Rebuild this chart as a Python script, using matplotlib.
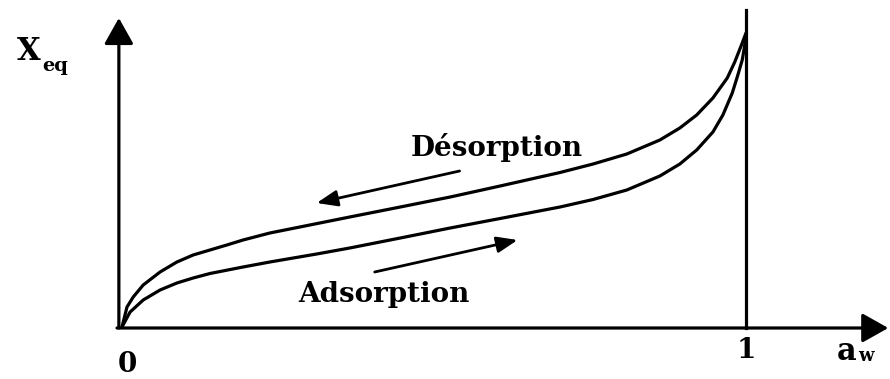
import matplotlib.pyplot as plt

# water activity (a_w) and equilibrium moisture content (arbitrary units)
aw_des = [0.0, 0.008, 0.018, 0.034, 0.061, 0.088, 0.114, 0.141, 0.168, 0.194,
          0.237, 0.285, 0.365, 0.446, 0.526, 0.606, 0.702, 0.755, 0.809, 0.862,
          0.894, 0.921, 0.947, 0.970, 0.982, 0.994, 1.0]
x_des = [0.0, 0.20, 0.30, 0.42, 0.55, 0.65, 0.72, 0.77, 0.82, 0.87,
         0.94, 1.00, 1.10, 1.20, 1.30, 1.41, 1.545, 1.63, 1.73, 1.87,
         1.99, 2.12, 2.29, 2.49, 2.65, 2.84, 2.94]

aw_ads = [0.0, 0.013, 0.034, 0.061, 0.088, 0.114, 0.141, 0.194, 0.237, 0.312,
          0.365, 0.446, 0.526, 0.606, 0.702, 0.755, 0.809, 0.862, 0.894, 0.921,
          0.947, 0.963, 0.978, 0.986, 0.994, 0.997, 1.0]
x_ads = [0.0, 0.15, 0.27, 0.37, 0.44, 0.49, 0.535, 0.60, 0.65, 0.73,
         0.79, 0.89, 0.99, 1.085, 1.20, 1.275, 1.37, 1.51, 1.63, 1.77,
         1.95, 2.12, 2.34, 2.50, 2.67, 2.78, 2.90]

SERIF = "DejaVu Serif"

fig = plt.figure(figsize=(8.9, 3.79), dpi=100)
ax = fig.add_axes([0, 0, 1, 1])
ax.set_xlim(-0.1955, 1.2308)
ax.set_ylim(-0.52, 3.27)
ax.axis("off")

lw = 2.3
ax.plot(aw_des, x_des, color="black", lw=lw, solid_capstyle="round", solid_joinstyle="round")
ax.plot(aw_ads, x_ads, color="black", lw=lw, solid_capstyle="round", solid_joinstyle="round")

# a_w = 1 boundary
ax.plot([1.0, 1.0], [-0.01, 3.17], color="black", lw=lw)

# axes with arrowheads
big = dict(arrowstyle="-|>,head_length=0.8,head_width=0.45", mutation_scale=20,
           color="black", lw=lw, shrinkA=0, shrinkB=0)
ax.annotate("", xy=(-0.005, 3.09), xytext=(-0.005, -0.01), arrowprops=big)
ax.annotate("", xy=(1.228, -0.01), xytext=(-0.008, -0.01), arrowprops=big)

# direction arrows
small = dict(arrowstyle="-|>,head_length=0.9,head_width=0.35", mutation_scale=14,
             color="black", lw=2.0, shrinkA=0, shrinkB=0)
ax.annotate("", xy=(0.312, 1.24), xytext=(0.541, 1.56), arrowprops=small)
ax.annotate("", xy=(0.634, 0.87), xytext=(0.405, 0.55), arrowprops=small)

ax.text(0.601, 1.80, "Désorption", fontsize=20, family=SERIF, weight="bold",
        ha="center", va="center")
ax.text(0.42, 0.32, "Adsorption", fontsize=20, family=SERIF, weight="bold",
        ha="center", va="center")

ax.text(-0.168, 2.75, "X", fontsize=22, family=SERIF, weight="bold", ha="left", va="center")
ax.text(-0.127, 2.61, "eq", fontsize=14, family=SERIF, weight="bold", ha="left", va="center")

ax.text(0.008, -0.37, "0", fontsize=20, family=SERIF, weight="bold", ha="center", va="center")
ax.text(1.0, -0.23, "1", fontsize=20, family=SERIF, weight="bold", ha="center", va="center")
ax.text(1.145, -0.25, "a", fontsize=22, family=SERIF, weight="bold", ha="left", va="center")
ax.text(1.180, -0.29, "w", fontsize=13, family=SERIF, weight="bold", ha="left", va="center")

fig.savefig("out.png", dpi=100)
